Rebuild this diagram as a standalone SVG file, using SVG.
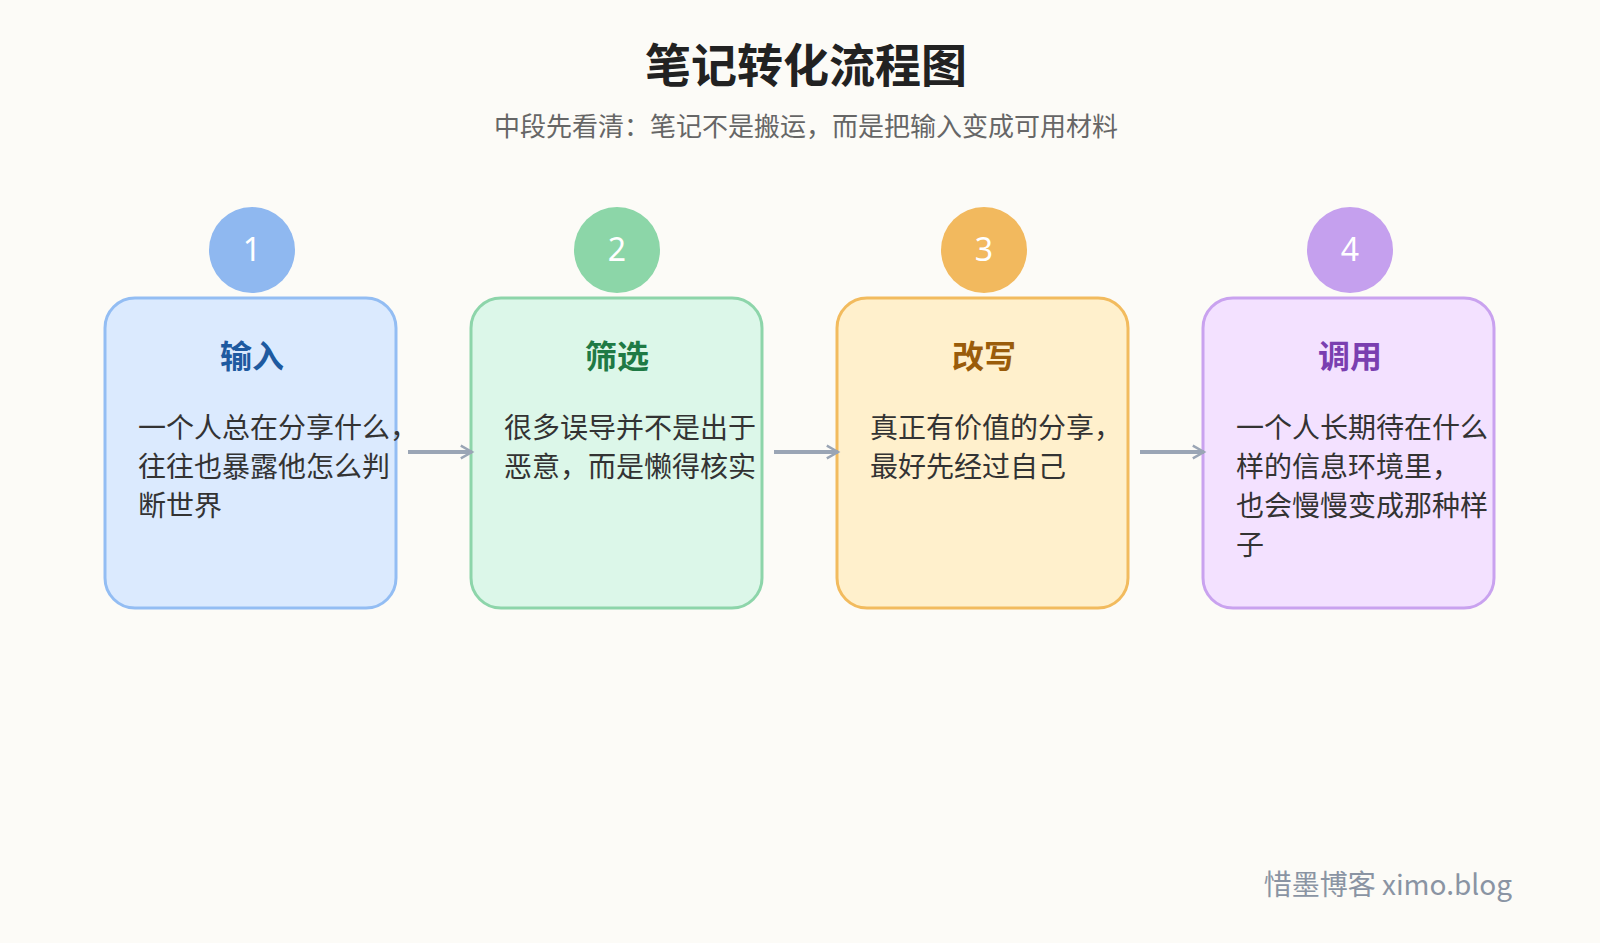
<svg xmlns="http://www.w3.org/2000/svg" width="1600" height="943" viewBox="0 0 1600 943">
<defs>
<style>
text{font-family:"Noto Sans CJK SC","Noto Sans",sans-serif}
.box{stroke-width:3}
.num{font-family:"Noto Sans",sans-serif;font-size:32px;fill:#fff;text-anchor:middle}
.ttl{font-size:32px;font-weight:bold;text-anchor:middle}
.body{font-size:28px;fill:#333}
.conn{stroke:#9aa5b5;stroke-width:4;fill:none}
</style>
<marker id="ah" viewBox="0 0 10 10" refX="8" refY="5" markerWidth="4" markerHeight="4" orient="auto" markerUnits="strokeWidth"><path d="M1,1 L8,5 L1,9" fill="none" stroke="#9aa5b5" stroke-width="1.5"/></marker>
</defs>
<rect width="1600" height="943" fill="#fcfbf7"/>
<text x="806" y="82" font-size="46" font-weight="bold" fill="#222" text-anchor="middle">笔记转化流程图</text>
<text x="806" y="136" font-size="26" fill="#666" text-anchor="middle">中段先看清：笔记不是搬运，而是把输入变成可用材料</text>
<g id="n1"><rect class="box" x="105" y="298" width="291" height="310" rx="30" fill="#dbeafe" stroke="#93bdf3"/><circle cx="252" cy="250" r="43" fill="#8fb8f0"/><text class="num" x="252" y="261">1</text><text class="ttl" x="252" y="368" fill="#1e5aa0">输入</text><text class="body" x="138" y="438">一个人总在分享什么，<tspan x="138" dy="39">往往也暴露他怎么判</tspan><tspan x="138" dy="39">断世界</tspan></text></g>
<g id="n2"><rect class="box" x="471" y="298" width="291" height="310" rx="30" fill="#dcf7e9" stroke="#8dd5aa"/><circle cx="617" cy="250" r="43" fill="#8cd6a8"/><text class="num" x="617" y="261">2</text><text class="ttl" x="617" y="368" fill="#1f7a45">筛选</text><text class="body" x="504" y="438">很多误导并不是出于<tspan x="504" dy="39">恶意，而是懒得核实</tspan></text></g>
<g id="n3"><rect class="box" x="837" y="298" width="291" height="310" rx="30" fill="#fff0cc" stroke="#f2bb5e"/><circle cx="984" cy="250" r="43" fill="#f2b95e"/><text class="num" x="984" y="261">3</text><text class="ttl" x="984" y="368" fill="#9a5c0a">改写</text><text class="body" x="870" y="438">真正有价值的分享，<tspan x="870" dy="39">最好先经过自己</tspan></text></g>
<g id="n4"><rect class="box" x="1203" y="298" width="291" height="310" rx="30" fill="#f3e1ff" stroke="#c9a2ef"/><circle cx="1350" cy="250" r="43" fill="#c5a0ee"/><text class="num" x="1350" y="261">4</text><text class="ttl" x="1350" y="368" fill="#7a3fb0">调用</text><text class="body" x="1236" y="438">一个人长期待在什么<tspan x="1236" dy="39">样的信息环境里，</tspan><tspan x="1236" dy="39">也会慢慢变成那种样</tspan><tspan x="1236" dy="39">子</tspan></text></g>
<g id="connectors">
<line class="conn" x1="408" y1="452" x2="472" y2="452" marker-end="url(#ah)"/>
<line class="conn" x1="774" y1="452" x2="838" y2="452" marker-end="url(#ah)"/>
<line class="conn" x1="1140" y1="452" x2="1204" y2="452" marker-end="url(#ah)"/>
</g>
<text x="1512" y="895" font-size="28" fill="#8a94a3" text-anchor="end">惜墨博客 ximo.blog</text>
</svg>
